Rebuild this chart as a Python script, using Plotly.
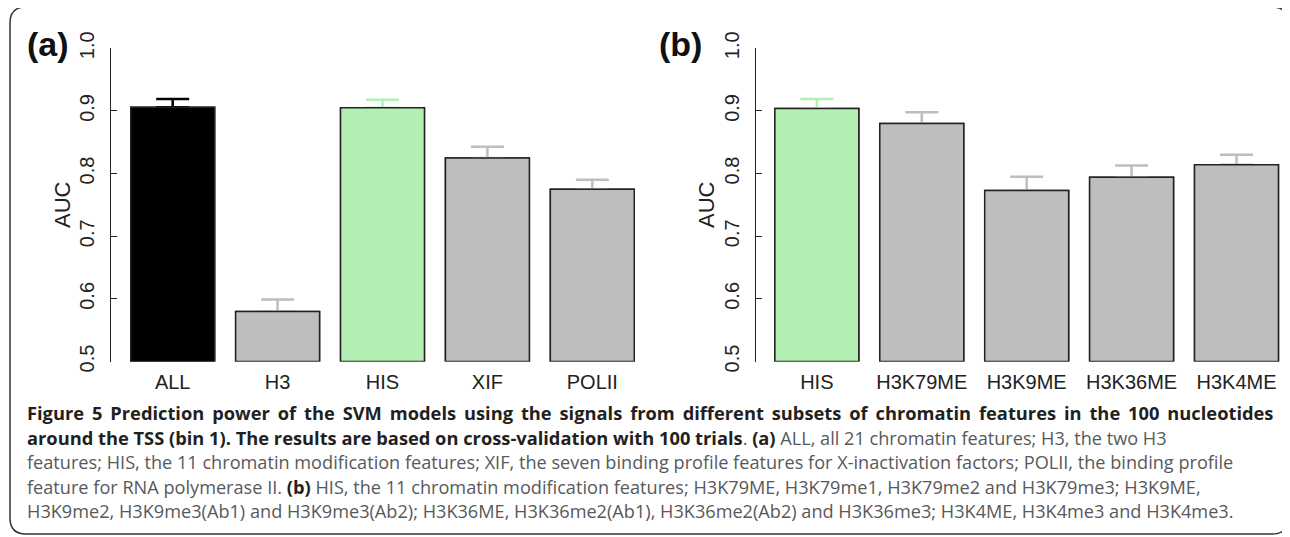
import plotly.graph_objects as go

# AUC per feature subset (bar top, top of error bar)
cats_a = ["ALL", "H3", "HIS", "XIF", "POLII"]
auc_a = [0.906, 0.580, 0.905, 0.825, 0.775]
upper_a = [0.919, 0.599, 0.918, 0.843, 0.790]

cats_b = ["HIS", "H3K79ME", "H3K9ME", "H3K36ME", "H3K4ME"]
auc_b = [0.904, 0.880, 0.773, 0.794, 0.814]
upper_b = [0.919, 0.898, 0.795, 0.813, 0.830]

y_ticks = [0.5, 0.6, 0.7, 0.8, 0.9, 1.0]
y_tick_labels = ["0.5", "0.6", "0.7", "0.8", "0.9", "1.0"]

caption_lines = [
    "<b>Figure 5 Prediction power of the SVM models using the signals from different subsets of chromatin features in the 100 nucleotides</b>",
    "<b>around the TSS (bin 1). The results are based on cross-validation with 100 trials</b>. <b>(a)</b> ALL, all 21 chromatin features; H3, the two H3",
    "features; HIS, the 11 chromatin modification features; XIF, the seven binding profile features for X-inactivation factors; POLII, the binding profile",
    "feature for RNA polymerase II. <b>(b)</b> HIS, the 11 chromatin modification features; H3K79ME, H3K79me1, H3K79me2 and H3K79me3; H3K9ME,",
    "H3K9me2, H3K9me3(Ab1) and H3K9me3(Ab2); H3K36ME, H3K36me2(Ab1), H3K36me2(Ab2) and H3K36me3; H3K4ME, H3K4me3 and H3K4me3.",
]
# first caption line is justified in the original
caption_word_spacing = [3.15, 0, 0, 0, 0]

# page body has an 8px margin, so the figure fills the rest of the window
OFF = 8
W, H = 1290 - OFF, 537 - OFF
BLACK = "#000000"
GRAY = "#BEBEBE"
GREEN = "#B3EEB3"
OUTLINE = "#222222"
BOLD_TXT = "#231f20"
BODY_TXT = "#58595b"
AXIS_FONT = "Liberation Sans, Arial, sans-serif"


def px_x(v):
    # screen x (window pixels) -> paper fraction
    return (v - OFF) / W


def px_y(v):
    return 1 - (v - OFF) / H


def bar_color(name):
    if name == "ALL":
        return BLACK
    if name == "HIS":
        return GREEN
    return GRAY


fig = go.Figure()


def add_panel(cats, auc, upper, xref, yref):
    for c, v, u in zip(cats, auc, upper):
        col = bar_color(c)
        # first pass carries the (upward only) error bar
        fig.add_trace(go.Bar(
            x=[c], y=[v - 0.5], base=0.5, width=0.8,
            marker=dict(color=col, line=dict(color=OUTLINE, width=1.5)),
            error_y=dict(type="data", symmetric=False, array=[u - v],
                         arrayminus=[0], color=col, thickness=2.5, width=16.5),
            xaxis=xref, yaxis=yref, showlegend=False, hoverinfo="skip",
        ))
        # second pass redraws the bar so the lower cap hides under its outline
        fig.add_trace(go.Bar(
            x=[c], y=[v - 0.5], base=0.5, width=0.8,
            marker=dict(color=col, line=dict(color=OUTLINE, width=1.5)),
            xaxis=xref, yaxis=yref, showlegend=False,
            customdata=[v], hovertemplate="%{x}: %{customdata:.3f}<extra></extra>",
        ))


add_panel(cats_a, auc_a, upper_a, "x", "y")
add_panel(cats_b, auc_b, upper_b, "x2", "y2")

y_dom = [px_y(361.5), px_y(48.3)]
yaxis_style = dict(
    range=[0.5, 1.0], domain=y_dom, tickvals=y_ticks, ticktext=y_tick_labels,
    tickangle=-90, ticks="inside", ticklen=6, tickwidth=1.2, tickcolor=OUTLINE,
    showline=True, linecolor=OUTLINE, linewidth=1.2, showgrid=False,
    zeroline=False, tickfont=dict(family=AXIS_FONT, size=20, color="#222"),
    ticklabelstandoff=8, automargin=False,
)
xaxis_style = dict(
    type="category", showline=False, ticks="", showgrid=False, zeroline=False,
    tickfont=dict(family=AXIS_FONT, size=20, color="#222"),
    ticklabelstandoff=6, automargin=False,
)

fig.update_layout(
    width=W, height=H, margin=dict(l=0, r=0, t=0, b=0),
    paper_bgcolor="white", plot_bgcolor="white", barmode="overlay",
    xaxis=dict(xaxis_style, domain=[px_x(111), px_x(654)], range=[-0.588, 4.588],
               categoryorder="array", categoryarray=cats_a, anchor="y"),
    yaxis=dict(yaxis_style, anchor="x"),
    xaxis2=dict(xaxis_style, domain=[px_x(756), 1.0], range=[-0.58, 4.51],
                categoryorder="array", categoryarray=cats_b, anchor="y2"),
    yaxis2=dict(yaxis_style, anchor="x2"),
)

ann = []
for label, x in [("(a)", 48), ("(b)", 680)]:
    ann.append(dict(text="<b>%s</b>" % label, x=px_x(x), y=px_y(44),
                    xanchor="center", yanchor="middle",
                    xref="paper", yref="paper", showarrow=False,
                    font=dict(family=AXIS_FONT, size=34, color="#111")))
for x in [62, 706]:
    ann.append(dict(text="AUC", textangle=-90, x=px_x(x), y=px_y(205),
                    xanchor="center", yanchor="middle",
                    xref="paper", yref="paper", showarrow=False,
                    font=dict(family=AXIS_FONT, size=22, color="#222")))

line_y = [412, 437, 462, 486, 511]
for txt, ly, ws in zip(caption_lines, line_y, caption_word_spacing):
    bold_open = "<b><span style='color:%s;font-size:18.3px;word-spacing:%spx'>" % (BOLD_TXT, ws)
    txt = txt.replace("<b>", bold_open).replace("</b>", "</span></b>")
    ann.append(dict(text=txt, x=px_x(25), y=px_y(ly), xanchor="left", yanchor="middle",
                    xref="paper", yref="paper", showarrow=False, align="left",
                    font=dict(family="Open Sans, sans-serif", size=18.15, color=BODY_TXT)))
fig.update_layout(annotations=ann)

# rounded frame around the whole figure
x0, x1, t0, t1, r = 10, 1288, 7, 534, 16
pts = [
    ("M", x0 + r, t0), ("L", x1 - r, t0), ("Q", x1, t0, x1, t0 + r),
    ("L", x1, t1 - r), ("Q", x1, t1, x1 - r, t1), ("L", x0 + r, t1),
    ("Q", x0, t1, x0, t1 - r), ("L", x0, t0 + r), ("Q", x0, t0, x0 + r, t0),
]
path = ""
for p in pts:
    cmd, coords = p[0], p[1:]
    pairs = []
    for i in range(0, len(coords), 2):
        pairs.append("%.5f,%.5f" % (px_x(coords[i]), px_y(coords[i + 1])))
    path += cmd + " ".join(pairs) + " "
fig.add_shape(type="path", path=path + "Z", xref="paper", yref="paper",
              line=dict(color="#333333", width=1.5))

fig.write_html("out.html")
